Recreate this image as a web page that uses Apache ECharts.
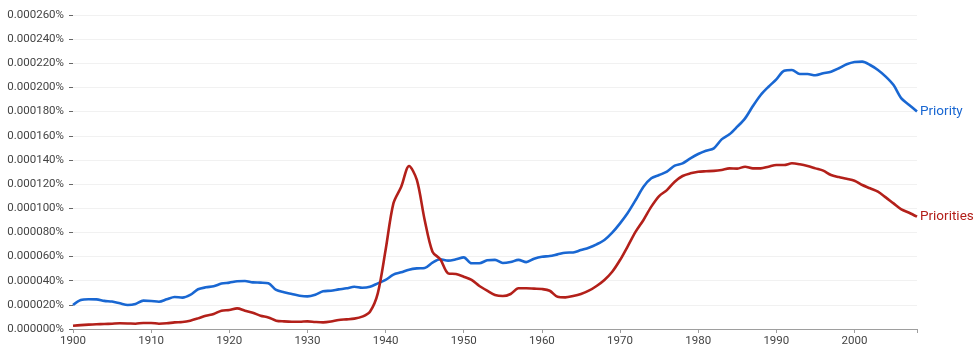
<!DOCTYPE html>
<html>
<head>
<meta charset="utf-8">
<script src="https://cdn.jsdelivr.net/npm/echarts@6/dist/echarts.min.js"></script>
<style>
html,body{margin:0;padding:0;background:#fff;}
#chart{width:980px;height:356px;}
</style>
</head>
<body>
<div id="chart"></div>
<script>
// Years 1900..2008
var years = [];
for (var y = 1900; y <= 2008; y++) years.push(y);

// Values in millionths of a percent (20 => 0.000020%)
var priority = [
  19.9,24,24.6,24.5,23.3,22.7,21.3,19.9,20.7,23.5,
  23.2,22.6,24.6,26.5,26,28.2,32.9,34.5,35.4,37.6,
  38.4,39.5,39.8,38.6,38.4,37.9,32.3,30.4,29,27.6,
  27,28.4,31.2,31.7,32.8,33.7,35,34.2,35,37.8,
  40.6,45,46.9,49.1,50.2,50.5,54.9,57.7,56.6,57.7,
  59.3,54.4,54.4,56.9,57.2,54.6,55.4,57.2,55.4,58.2,
  59.9,60.4,61.8,63.2,63.4,65.4,67.3,70.1,73.7,79.8,
  87.5,96.3,106.8,117.8,124.8,127.5,130.3,135.2,137.2,141.3,
  144.9,147.6,149.6,157,161.2,167.5,174.4,184.6,193.8,200.6,
  206.7,213.9,214.5,211.1,211.1,210.1,211.7,213.1,215.9,219.2,
  221.1,221.4,218.6,214.5,209,202,191,185.5,180
];
var priorities = [
  2.7,3.2,3.6,3.9,4.1,4.4,4.7,4.6,4.4,5,
  5,4.4,4.7,5.5,5.8,6.9,8.8,11,12.4,15.2,
  15.7,17.1,15.2,13.5,11,9.6,6.9,6.3,6,6,
  6.3,5.8,5.5,6.2,7.5,8,8.6,10.2,14.3,29.5,
  65.4,104,117.8,135,123.4,90.3,64,57.7,46.1,45.5,
  43.3,40.6,35.6,31.7,28.2,27.3,29,33.7,33.7,33.4,
  33.1,31.7,26.7,26.2,27.3,29,31.7,35.6,40.6,47.4,
  57.1,68.7,80.6,90.3,101.3,110.1,115,122,126.7,128.9,
  130.2,130.6,130.9,131.7,133,132.8,134.4,133,133,134.4,
  135.8,135.8,137.2,136.4,135,133,131.1,127.5,125.8,124.4,
  122.8,119.2,116.5,113.7,109,104,99.1,96.3,93
];
var seriesNames = ['Priority', 'Priorities'];
var seriesColors = ['#1967d2', '#b3201a'];

function pairs(arr){ return arr.map(function(v,i){ return [years[i], v]; }); }

var chart = echarts.init(document.getElementById('chart'), null, {renderer:'canvas'});
var font = 'Roboto, "Noto Sans", sans-serif';
chart.setOption({
  animation: false,
  grid: {left: 73, right: 63, top: 15, bottom: 27, containLabel: false},
  xAxis: {
    type: 'value', min: 1900, max: 2008, interval: 10,
    axisLine: {show: true, lineStyle: {color: '#9e9e9e', width: 1}},
    axisTick: {show: true, length: 4, lineStyle: {color: '#9e9e9e'}},
    axisLabel: {color: '#444', fontFamily: font, fontSize: 11.5, margin: 6,
      formatter: function(v){ return v % 10 === 0 ? String(v) : ''; }},
    splitLine: {show: false}
  },
  yAxis: {
    type: 'value', min: 0, max: 260, interval: 20,
    axisLine: {show: false},
    axisTick: {show: true, length: 4, lineStyle: {color: '#666'}},
    axisLabel: {color: '#444', fontFamily: font, fontSize: 11.5, margin: 9,
      formatter: function(v){ return (v/1e6).toFixed(6) + '%'; }},
    splitLine: {show: true, lineStyle: {color: '#f1f1f1', width: 1}}
  },
  series: [priority, priorities].map(function(arr, k){
    return {
      name: seriesNames[k], type: 'line', data: pairs(arr),
      smooth: 0.3, showSymbol: false, symbol: 'none',
      lineStyle: {color: seriesColors[k], width: 2.6},
      itemStyle: {color: seriesColors[k]},
      endLabel: {show: true, formatter: '{a}', color: seriesColors[k],
        fontFamily: font, fontSize: 13.5, distance: 3}
    };
  })
});
</script>
</body>
</html>
